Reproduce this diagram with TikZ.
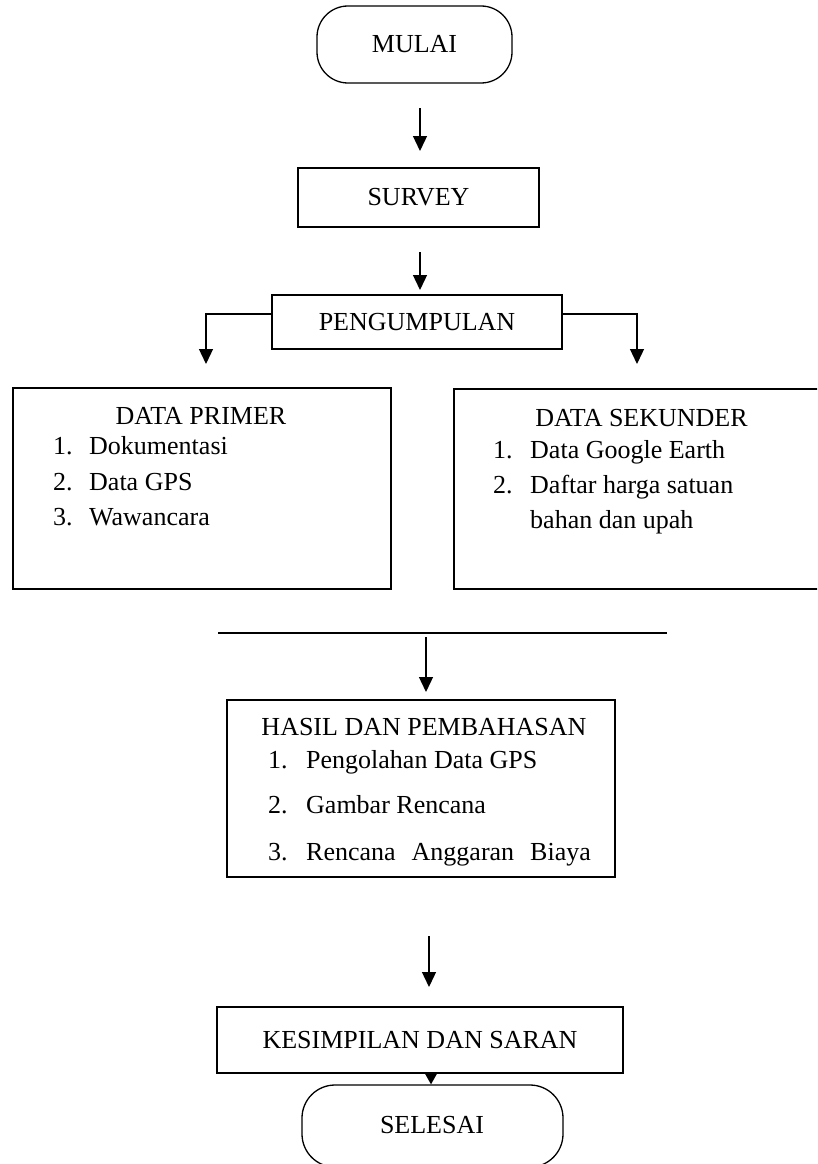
\documentclass[tikz,border=0pt]{standalone}
\usepackage{fontspec}
\setmainfont{Liberation Serif}
\usetikzlibrary{arrows.meta}
\tikzset{
  x=1pt, y=-1pt,
  every node/.style={font=\fontsize{26}{31}\selectfont, inner sep=0pt},
  boxnode/.style={draw, line width=1.3pt, rectangle},
  stadium/.style={draw, line width=1.3pt, rectangle, rounded corners=31pt},
  arr/.style={line width=1.3pt, -{Triangle[length=15pt,width=14pt]}},
  smallarr/.style={line width=1.3pt, -{Triangle[length=11pt,width=12pt]}},
  plain/.style={line width=1.3pt},
  item/.style={anchor=base west},
  title/.style={anchor=base},
}
\begin{document}
\begin{tikzpicture}
\useasboundingbox (0,0) rectangle (817,1164);
\clip (0,0) rectangle (817,1164);
\fill[white] (0,0) rectangle (817,1164);

% start
\node[stadium, minimum width=195pt, minimum height=77pt] (mulai) at (414.5,44.5) {MULAI};
\node[boxnode, minimum width=241pt, minimum height=59pt] (survey) at (418.5,197.5) {SURVEY};
\node[boxnode, minimum width=290pt, minimum height=54pt] (peng) at (417,322) {PENGUMPULAN};

% data boxes
\node[boxnode, minimum width=378pt, minimum height=201pt] (primer) at (202,488.5) {};
\node[title] (primert) at (201,424) {DATA PRIMER};
\node[item] (p1n) at (53,454) {1.};
\node[item] (p1) at (89,454) {Dokumentasi};
\node[item] (p2n) at (53,490) {2.};
\node[item] (p2) at (89,490) {Data GPS};
\node[item] (p3n) at (53,525) {3.};
\node[item] (p3) at (89,525) {Wawancara};

\node[boxnode, minimum width=376pt, minimum height=200pt] (sekunder) at (642,489) {};
\node[title] (sekundert) at (641.5,426) {DATA SEKUNDER};
\node[item] (s1n) at (493,458) {1.};
\node[item] (s1) at (530,458) {Data Google Earth};
\node[item] (s2n) at (493,493) {2.};
\node[item] (s2) at (530,493) {Daftar harga satuan};
\node[item] (s3) at (530,528) {bahan dan upah};

% result
\node[boxnode, minimum width=388pt, minimum height=177pt] (hasil) at (421,788.5) {};
\node[title] (hasilt) at (424,735) {HASIL DAN PEMBAHASAN};
\node[item] (h1n) at (268,768) {1.};
\node[item] (h1) at (306,768) {Pengolahan Data GPS};
\node[item] (h2n) at (268,813) {2.};
\node[item] (h2) at (306,813) {Gambar Rencana};
\node[item] (h3n) at (268,860) {3.};
\node[item] (h3) at (306,860) {Rencana\hspace{16pt}Anggaran\hspace{16pt}Biaya};

\node[boxnode, minimum width=406pt, minimum height=66pt] (kes) at (420,1040) {KESIMPILAN DAN SARAN};

\node[stadium, rounded corners=33pt, minimum width=261pt, minimum height=82pt] (selesai) at (432.5,1126) {};
\node[title] (selesait) at (432,1133) {SELESAI};

% connectors
\coordinate (a1s) at (420,108);
\coordinate (a1e) at (420,151);
\draw[arr] (a1s) -- (a1e);
\coordinate (a2s) at (420,252);
\coordinate (a2e) at (420,290);
\draw[arr] (a2s) -- (a2e);
\coordinate (lb) at (206,364);
\coordinate (rb) at (637,364);
\draw[arr] ([yshift=8pt]peng.west) -| (lb);
\draw[arr] ([yshift=8pt]peng.east) -| (rb);
\coordinate (hl) at (218,633);
\coordinate (hr) at (667,633);
\draw[plain] (hl) -- (hr);
\coordinate (a3s) at (426,637);
\coordinate (a3e) at (426,692);
\draw[arr] (a3s) -- (a3e);
\coordinate (a4s) at (429,936);
\coordinate (a4e) at (429,987);
\draw[arr] (a4s) -- (a4e);
\draw[smallarr] ([xshift=11pt]kes.south) -- ([xshift=11pt]kes.south |- selesai.north);
\end{tikzpicture}
\end{document}
